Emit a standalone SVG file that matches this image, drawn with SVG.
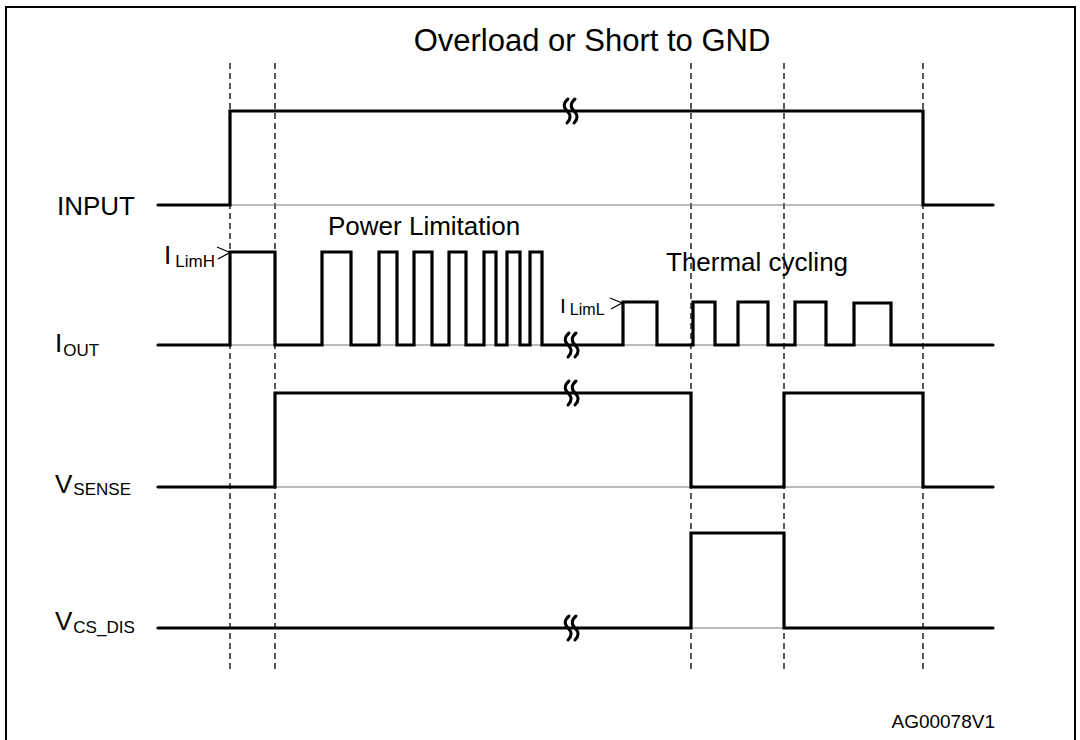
<svg xmlns="http://www.w3.org/2000/svg" width="1080" height="740" viewBox="0 0 1080 740">
<style>
  .t { font-family: "Liberation Sans", Arial, sans-serif; fill: #000; }
  .lbl { font-size: 26px; }
  .sub { font-size: 17px; }
  .wave { fill: none; stroke: #000; stroke-width: 3.2; stroke-linejoin: miter; stroke-linecap: round; }
  .base { fill: none; stroke: #777; stroke-width: 1; }
  .dash { fill: none; stroke: #000; stroke-width: 1.3; stroke-dasharray: 6 4; }
  .brk { fill: none; stroke: #000; stroke-width: 3; stroke-linecap: round; }
  .chev { fill: none; stroke: #000; stroke-width: 1.3; }
</style>
<defs>
  <g id="brk">
    <path class="brk" d="M-3,-12 Q-10,-6 -4,0 Q2,6 -4,12"/>
    <path class="brk" d="M4,-12 Q-3,-6 3,0 Q9,6 3,12"/>
  </g>
</defs>
<rect x="6" y="7" width="1069" height="800" fill="#fff" stroke="#000" stroke-width="2"/>
<text class="t" x="592" y="51" font-size="31" text-anchor="middle">Overload or Short to GND</text>

<g id="connectors">
  <line class="dash" x1="230" y1="63" x2="230" y2="670"/>
  <line class="dash" x1="275" y1="63" x2="275" y2="670"/>
  <line class="dash" x1="691" y1="63" x2="691" y2="670"/>
  <line class="dash" x1="784" y1="63" x2="784" y2="670"/>
  <line class="dash" x1="923" y1="63" x2="923" y2="670"/>
</g>

<g id="input">
  <text class="t lbl" x="57" y="215">INPUT</text>
  <line class="base" x1="230" y1="205" x2="923" y2="205"/>
  <polyline class="wave" points="158,205 230,205 230,111 923,111 923,205 993,205"/>
  <use href="#brk" x="571" y="111"/>
</g>

<g id="iout">
  <text class="t lbl" x="55" y="352">I<tspan class="sub" dy="4" dx="1">OUT</tspan></text>
  <line class="base" x1="230" y1="345" x2="923" y2="345"/>
  <polyline class="wave" points="158,345 230,345 230,252 275,252 275,345 322,345 322,252 351,252 351,345 379,345 379,252 397,252 397,345 414,345 414,252 432,252 432,345 449,345 449,252 466,252 466,345 484,345 484,252 496,252 496,345 507,345 507,252 520,252 520,345 530,345 530,252 542,252 542,345 623,345 623,302 657,302 657,345 693,345 693,302 715,302 715,345 738,345 738,302 768,302 768,345 795,345 795,302 826,302 826,345 854,345 854,303 891,303 891,345 993,345"/>
  <use href="#brk" x="572" y="345"/>
  <text class="t" x="164" y="264" font-size="26">I<tspan class="sub" dx="4" dy="3">LimH</tspan></text>
  <polyline class="chev" points="217,247 230,252.5 218,259"/>
  <text class="t" x="560" y="313" font-size="21">I<tspan font-size="16" dx="4" dy="2">LimL</tspan></text>
  <polyline class="chev" points="610,298 622,303 611,309"/>
  <text class="t lbl" x="328" y="235">Power Limitation</text>
  <text class="t lbl" x="666" y="271">Thermal cycling</text>
</g>

<g id="vsense">
  <text class="t lbl" x="55" y="493">V<tspan class="sub" dy="2" dx="1">SENSE</tspan></text>
  <line class="base" x1="275" y1="487" x2="923" y2="487"/>
  <polyline class="wave" points="158,487 275,487 275,393 691,393 691,487 784,487 784,393 923,393 923,487 993,487"/>
  <use href="#brk" x="572" y="393"/>
</g>

<g id="vcsdis">
  <text class="t lbl" x="55" y="630">V<tspan class="sub" dy="3" dx="1">CS_DIS</tspan></text>
  <line class="base" x1="691" y1="628" x2="784" y2="628"/>
  <polyline class="wave" points="158,628 691,628 691,533 784,533 784,628 993,628"/>
  <use href="#brk" x="572" y="628"/>
</g>

<text class="t" x="995" y="728" font-size="19" text-anchor="end">AG00078V1</text>
</svg>
